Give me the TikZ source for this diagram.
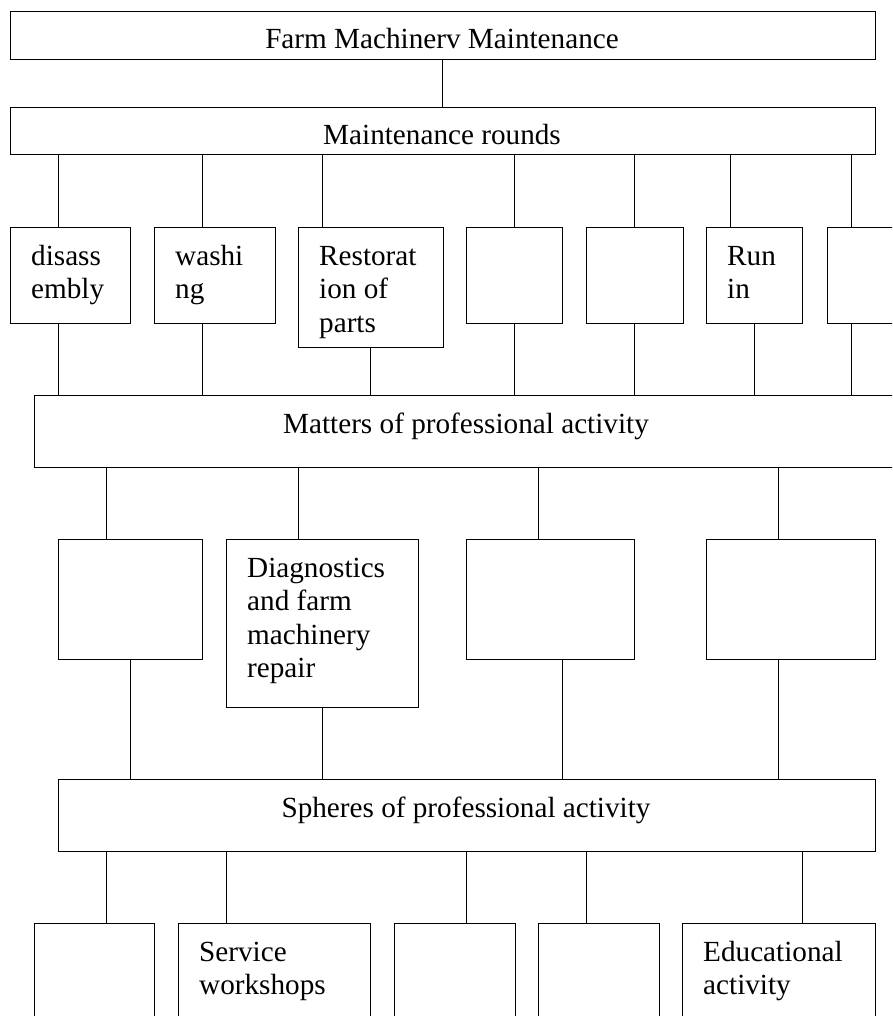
\documentclass[tikz,border=0pt]{standalone}
\usepackage{fontspec}
\setmainfont{Liberation Serif}
\tikzset{
  box/.style={draw=black, line width=1.3pt, inner sep=0pt, anchor=north west, fill=white},
  conn/.style={draw=black, line width=1pt},
  lbl/.style={inner sep=0pt, font=\fontsize{29.2}{33.6}\selectfont},
  ctr/.style={lbl, anchor=base},
  lft/.style={lbl, anchor=base west},
}
% rectangle given by its top-left and bottom-right corners (y grows downwards)
\newcommand\boxat[5]{%
  \node[box, minimum width={(#4-#2)*1pt}, minimum height={(#5-#3)*1pt}] (#1) at (#2,#3) {};}
% vertical connector at abscissa #3 from the bottom of #1 to the top of #2
\newcommand\link[3]{\draw[conn] (#1.south -| #3,0) -- (#2.north -| #3,0);}
% multi-line text block, first baseline 38 below the top edge, 21 in from the left
\newcommand\mtext[3]{%
  \node[lft] (#1) at ([shift={(21,38)}]#2.north west) {\parbox[t]{300pt}{\raggedright #3}};}
\begin{document}
\begin{tikzpicture}[x=1pt, y=-1pt]
\useasboundingbox (0,0) rectangle (892,1016);
\clip (0,0) rectangle (892,1016);
\fill[white] (0,0) rectangle (892,1016);

% level 0 and 1
\boxat{fmm}{10}{11}{875}{59}
\boxat{rounds}{10}{107}{875}{154}
\node[ctr] (tfmm) at (442,49) {Farm Machinerv Maintenance};
\node[ctr] (trounds) at (442,145) {Maintenance rounds};
\link{fmm}{rounds}{442}

% maintenance operations
\boxat{dis}{10}{227}{130}{323}
\boxat{wash}{154}{227}{275}{323}
\boxat{rest}{298}{227}{443}{347}
\boxat{opd}{466}{227}{562}{323}
\boxat{ope}{586}{227}{683}{323}
\boxat{run}{706}{227}{802}{323}
\boxat{opg}{827}{227}{924}{323}
\mtext{tdis}{dis}{disass\\embly}
\mtext{twash}{wash}{washi\\ng}
\mtext{trest}{rest}{Restorat\\ion of\\parts}
\mtext{trun}{run}{Run\\in}

\link{rounds}{dis}{58}
\link{rounds}{wash}{202}
\link{rounds}{rest}{322}
\link{rounds}{opd}{514}
\link{rounds}{ope}{634}
\link{rounds}{run}{730}
\link{rounds}{opg}{851}

% matters of professional activity
\boxat{matters}{34}{395}{898}{467}
\node[ctr] (tmatters) at (466,433) {Matters of professional activity};
\link{dis}{matters}{58}
\link{wash}{matters}{202}
\link{rest}{matters}{370}
\link{opd}{matters}{514}
\link{ope}{matters}{634}
\link{run}{matters}{754}
\link{opg}{matters}{851}

\boxat{ma}{58}{539}{202}{659}
\boxat{diag}{226}{539}{418}{707}
\boxat{mc}{466}{539}{634}{659}
\boxat{md}{706}{539}{875}{659}
\mtext{tdiag}{diag}{Diagnostics\\and farm\\machinery\\repair}
\link{matters}{ma}{106}
\link{matters}{diag}{298}
\link{matters}{mc}{538}
\link{matters}{md}{778}

% spheres of professional activity
\boxat{spheres}{58}{779}{875}{851}
\node[ctr] (tspheres) at (466,817) {Spheres of professional activity};
\link{ma}{spheres}{130}
\link{diag}{spheres}{322}
\link{mc}{spheres}{562}
\link{md}{spheres}{778}

\boxat{sa}{34}{923}{154}{1080}
\boxat{serv}{178}{923}{370}{1080}
\boxat{sc}{394}{923}{515}{1080}
\boxat{sd}{538}{923}{659}{1080}
\boxat{edu}{682}{923}{875}{1080}
\mtext{tserv}{serv}{Service\\workshops}
\mtext{tedu}{edu}{Educational\\activity}
\link{spheres}{sa}{106}
\link{spheres}{serv}{226}
\link{spheres}{sc}{466}
\link{spheres}{sd}{586}
\link{spheres}{edu}{802}
\end{tikzpicture}
\end{document}
